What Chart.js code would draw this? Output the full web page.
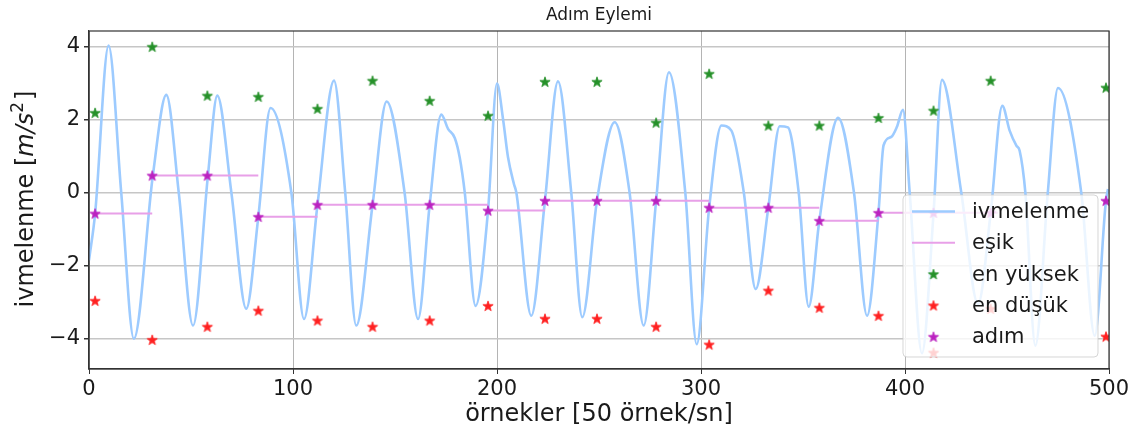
<!DOCTYPE html>
<html lang="tr">
<head>
<meta charset="utf-8">
<title>Adım Eylemi</title>
<script src="https://cdn.jsdelivr.net/npm/chart.js@4.4.1/dist/chart.umd.min.js"></script>
<style>
  html, body { margin: 0; padding: 0; background: #fff; }
</style>
</head>
<body>
<canvas id="chart" width="1138" height="434"></canvas>
<script>
// ivmelenme sinyali: [örnek, m/s²]
const ivmelenme = [
  [0, -1.85], [3, -0.57], [9.6, 4.03], [15.8, 0], [22, -4.0], [31.3, 0.47],
  [37.9, 2.68], [44, 0], [51, -3.64], [58.3, 0.47], [62.9, 2.66], [69.8, 0],
  [77.1, -3.18], [83, -0.66], [89, 2.32], [99.2, 0], [105.4, -3.46],
  [112, -0.33], [120.1, 3.07], [125.6, 0], [131, -3.64], [139, -0.33],
  [145.9, 2.5], [154.7, 0], [161.3, -3.46], [167, -0.33],
  [172.7, 2.14], [176, 1.75], [179.3, 1.5], [181.7, 0.97], [184.2, 0], [189.5, -3.1],
  [195.6, -0.49], [200, 2.99], [203, 2.0], [205.4, 0.97], [208.3, 0.24],
  [209.5, 0], [216.8, -3.37], [223.5, -0.22], [229.9, 3.05], [236.4, 0],
  [241.8, -3.41], [249, -0.22], [257.7, 1.93], [265, 0], [271.9, -3.64],
  [278, -0.22], [284.3, 3.3], [292.3, 0], [297.9, -4.15], [304, -0.41],
  [310, 1.84], [314.9, 1.7], [321, 0], [326.8, -2.64], [333, -0.41],
  [338.6, 1.82], [342.6, 1.79], [347.9, 0], [352.8, -3.12], [358, -0.77],
  [367.2, 2.05], [375, 0], [381.4, -3.37], [387, -0.55],
  [389.5, 1.3], [393.3, 1.53], [396, 1.8], [399, 2.27], [402.3, 0], [408.3, -4.4],
  [414, -0.55], [418.1, 3.09], [427.6, 0], [435.8, -3.05], [442, -0.55],
  [447.7, 2.38], [451.3, 1.7], [454.6, 1.29], [456.2, 1.15], [459, 0],
  [463.9, -4.19], [470, 0], [475, 2.87], [486.4, 0], [493, -3.92], [498.5, -0.22],
  [499.5, 0.1]
];

// adım başına eşik değerleri
const esikStart = [3, 31, 83, 112, 195.6, 223.5, 304, 358, 387];
const esikEnd   = [31, 83, 112, 195.6, 223.5, 304, 358, 387, 445.5];
const esikValue = [-0.57, 0.47, -0.66, -0.33, -0.49, -0.22, -0.41, -0.77, -0.55];

// adımlar ve her adımdaki en yüksek / en düşük değerler
const adimX = [3, 31, 58, 83, 112, 139, 167, 195.6, 223.5, 249, 278, 304, 333, 358, 387, 414, 442, 498.5];
const adimY = [-0.57, 0.47, 0.47, -0.66, -0.33, -0.33, -0.33, -0.49, -0.22, -0.22, -0.22, -0.41, -0.41, -0.77, -0.55, -0.55, -0.55, -0.22];
const yuksekY = [2.19, 4.0, 2.66, 2.63, 2.3, 3.07, 2.52, 2.11, 3.04, 3.04, 1.92, 3.26, 1.84, 1.84, 2.05, 2.25, 3.07, 2.88];
const dusukY = [-2.96, -4.03, -3.67, -3.23, -3.5, -3.67, -3.5, -3.1, -3.45, -3.45, -3.67, -4.16, -2.68, -3.15, -3.37, -4.38, -3.18, -3.94];

const xTicks = [0, 100, 200, 300, 400, 500];
const yTicks = [-4, -2, 0, 2, 4];

const FONT = "'DejaVu Sans', sans-serif";
const TEXT = '#1a1a1a';
const SPINE = '#333333';

function starMarker(color, r) {
  const c = document.createElement('canvas');
  const s = Math.ceil(r * 2 + 3);
  c.width = s;
  c.height = s;
  const g = c.getContext('2d');
  g.translate(s / 2, s / 2 + 0.5);
  g.beginPath();
  for (let i = 0; i < 10; i++) {
    const rad = i % 2 ? r * 0.4 : r;
    const a = -Math.PI / 2 + i * Math.PI / 5;
    g.lineTo(rad * Math.cos(a), rad * Math.sin(a));
  }
  g.closePath();
  g.fillStyle = color;
  g.fill();
  g.strokeStyle = color;
  g.lineWidth = 0.8;
  g.stroke();
  return c;
}

const greenStar = starMarker('#26912a', 5.4);
const redStar = starMarker('#ff2121', 5.4);
const magentaStar = starMarker('#bb22c0', 5.4);

const esikData = [];
esikStart.forEach((s, i) => {
  esikData.push({ x: s, y: esikValue[i] }, { x: esikEnd[i], y: esikValue[i] }, { x: esikEnd[i], y: null });
});

const toPoints = (xs, ys) => xs.map((x, i) => ({ x, y: ys[i] }));

const datasets = [
  {
    label: 'ivmelenme',
    data: ivmelenme.map(([x, y]) => ({ x, y })),
    showLine: true,
    borderColor: '#9dcbff',
    borderWidth: 2.6,
    pointRadius: 0,
    cubicInterpolationMode: 'monotone',
    clip: 0,
    order: 5
  },
  {
    label: 'eşik',
    data: esikData,
    showLine: true,
    spanGaps: false,
    borderColor: '#e8a0e8',
    borderWidth: 2,
    pointRadius: 0,
    clip: 0,
    order: 4
  },
  { label: 'en yüksek', data: toPoints(adimX, yuksekY), pointStyle: greenStar, pointRadius: 5, clip: 0, order: 3 },
  { label: 'en düşük', data: toPoints(adimX, dusukY), pointStyle: redStar, pointRadius: 5, clip: 0, order: 2 },
  { label: 'adım', data: toPoints(adimX, adimY), pointStyle: magentaStar, pointRadius: 5, clip: 0, order: 1 }
];

// çerçeve, başlık, y ekseni etiketi ve lejant
const decorations = {
  id: 'decorations',
  afterDatasetsDraw(chart) {
    const { ctx, chartArea: a } = chart;
    ctx.save();
    ctx.strokeStyle = SPINE;
    ctx.lineWidth = 1.2;
    ctx.strokeRect(a.left, a.top, a.right - a.left, a.bottom - a.top);
    ctx.restore();
  },
  afterDraw(chart) {
    const { ctx, chartArea: a } = chart;
    ctx.save();

    // başlık
    ctx.fillStyle = TEXT;
    ctx.font = `17px ${FONT}`;
    ctx.textAlign = 'center';
    ctx.textBaseline = 'middle';
    ctx.fillText('Adım Eylemi', (a.left + a.right) / 2, 16);

    // y ekseni etiketi: ivmelenme [m/s²]
    const parts = [
      { t: 'ivmelenme [', f: `24px ${FONT}`, dy: 0 },
      { t: 'm/s', f: `italic 24px ${FONT}`, dy: 0 },
      { t: '2', f: `17px ${FONT}`, dy: -10 },
      { t: ']', f: `24px ${FONT}`, dy: 0 }
    ];
    let total = 0;
    parts.forEach(p => { ctx.font = p.f; p.w = ctx.measureText(p.t).width; total += p.w; });
    ctx.translate(33, (a.top + a.bottom) / 2);
    ctx.rotate(-Math.PI / 2);
    ctx.textAlign = 'left';
    ctx.textBaseline = 'alphabetic';
    let cx = -total / 2;
    parts.forEach(p => { ctx.font = p.f; ctx.fillText(p.t, cx, p.dy); cx += p.w + (p.t === '2' ? 2 : 0); });
    ctx.restore();

    // lejant
    ctx.save();
    const boxW = 195, boxH = 162;
    const bx = a.right - 11 - boxW;
    const by = a.bottom - 12 - boxH;
    ctx.beginPath();
    ctx.roundRect(bx, by, boxW, boxH, 4);
    ctx.fillStyle = 'rgba(255,255,255,0.8)';
    ctx.fill();
    ctx.strokeStyle = 'rgba(204,204,204,0.8)';
    ctx.lineWidth = 1;
    ctx.stroke();

    ctx.font = `21px ${FONT}`;
    ctx.textBaseline = 'middle';
    ctx.fillStyle = TEXT;
    datasets.forEach((ds, i) => {
      const y = by + 16.5 + i * 31.3;
      const hx = bx + 9;
      if (ds.showLine) {
        ctx.beginPath();
        ctx.moveTo(hx, y);
        ctx.lineTo(hx + 43, y);
        ctx.strokeStyle = ds.borderColor;
        ctx.lineWidth = ds.borderWidth;
        ctx.stroke();
      } else {
        const img = ds.pointStyle;
        ctx.drawImage(img, hx + 21.5 - img.width / 2, y - img.height / 2);
      }
      ctx.fillText(ds.label, bx + 69, y + 1);
    });
    ctx.restore();
  }
};

const fmt = v => (v < 0 ? '\u2212' + Math.abs(v) : String(v));

new Chart(document.getElementById('chart'), {
  type: 'scatter',
  data: { datasets },
  plugins: [decorations],
  options: {
    responsive: false,
    animation: false,
    events: [],
    layout: { padding: { top: 31, right: 29, left: 0, bottom: 0 } },
    plugins: {
      legend: { display: false },
      tooltip: { enabled: false }
    },
    scales: {
      x: {
        type: 'linear',
        min: 0,
        max: 500,
        afterFit: s => { s.height = 65; },
        afterBuildTicks: s => { s.ticks = xTicks.map(v => ({ value: v })); },
        grid: { color: '#b4b4b4', lineWidth: 1, tickLength: 5, tickColor: SPINE },
        border: { color: SPINE, width: 1.2 },
        ticks: { color: TEXT, font: { family: FONT, size: 21 }, padding: 3, maxRotation: 0, callback: fmt },
        title: {
          display: true,
          text: 'örnekler [50 örnek/sn]',
          color: TEXT,
          font: { family: FONT, size: 24 },
          padding: { top: 0, bottom: 5 }
        }
      },
      y: {
        type: 'linear',
        min: -4.83,
        max: 4.43,
        afterFit: s => { s.width = 89; },
        afterBuildTicks: s => { s.ticks = yTicks.map(v => ({ value: v })); },
        grid: { color: '#c6c6c6', lineWidth: 1.5, tickLength: 5, tickColor: SPINE },
        border: { color: SPINE, width: 1.2 },
        ticks: { color: TEXT, font: { family: FONT, size: 21 }, padding: 4, callback: fmt }
      }
    }
  }
});
</script>
</body>
</html>
